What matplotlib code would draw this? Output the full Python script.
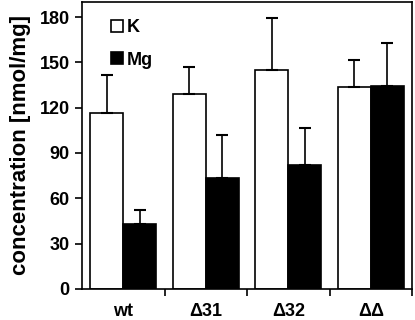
import matplotlib.pyplot as plt
import numpy as np

plt.rcParams['font.family'] = ['Liberation Sans', 'DejaVu Sans']
plt.rcParams['font.weight'] = 'bold'

groups = ['wt', '\u039431', '\u039432', '\u0394\u0394']
k_vals = [116.7, 129.3, 144.7, 133.9]
k_err = [25.0, 17.6, 34.4, 17.7]
mg_vals = [42.8, 73.3, 82.1, 134.3]
mg_err = [9.5, 28.8, 24.7, 28.7]

fig = plt.figure(figsize=(4.15, 3.2), dpi=100)
ax = fig.add_axes([0.198, 0.097, 0.795, 0.897])

x = np.arange(len(groups))
w = 0.4
ax.bar(x - w/2, k_vals, w, color='white', edgecolor='black', linewidth=1.2, label='K',
       yerr=[np.zeros(4), k_err], error_kw=dict(ecolor='black', elinewidth=1.2, capsize=4, capthick=1.5))
ax.bar(x + w/2, mg_vals, w, color='black', edgecolor='black', linewidth=1.2, label='Mg',
       yerr=[np.zeros(4), mg_err], error_kw=dict(ecolor='black', elinewidth=1.2, capsize=4, capthick=1.5))

ax.set_xlim(-0.5, 3.5)
ax.set_ylim(0, 190)
ax.set_yticks(np.arange(0, 181, 30))
ax.set_xticks(x)
ax.set_xticklabels(groups, fontsize=13, fontweight='bold')
ax.set_xticks(np.arange(0.5, 3.6, 1), minor=True)
ax.tick_params(axis='x', which='major', length=0, pad=10)
ax.tick_params(axis='x', which='minor', length=5, width=1.2, direction='out')
ax.tick_params(axis='y', length=5, width=1.2, labelsize=13, direction='out', pad=4)
for lbl in ax.get_yticklabels():
    lbl.set_fontweight('bold')
for s in ax.spines.values():
    s.set_linewidth(1.2)

ax.set_ylabel('concentration [nmol/mg]', fontsize=16, fontweight='bold', labelpad=6)

ax.legend(loc='upper left', bbox_to_anchor=(0.065, 0.965), frameon=False, handlelength=0.65,
          handleheight=0.65, handletextpad=0.25, labelspacing=0.85, borderaxespad=0.0,
          prop={'weight': 'bold', 'size': 13})

plt.savefig('out.png', dpi=100)
